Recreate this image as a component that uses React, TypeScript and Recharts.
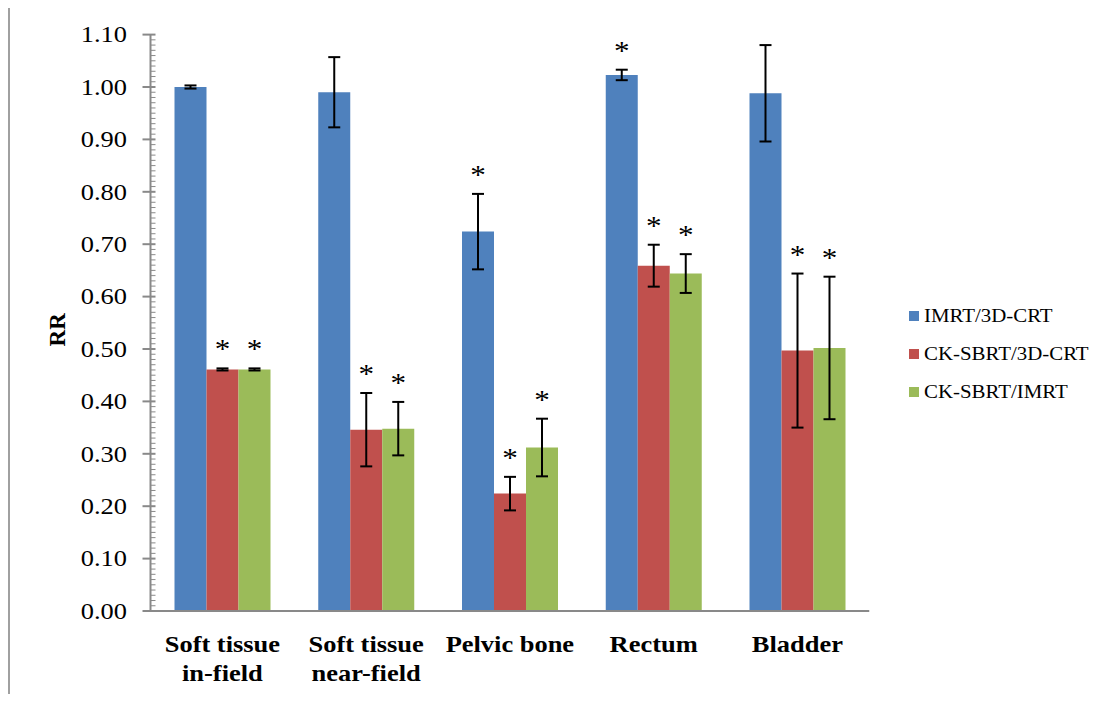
import React from 'react';
import { BarChart, Bar, XAxis, YAxis, ErrorBar, LabelList, Legend, Label } from 'recharts';

const FONT = '"Liberation Serif", "Times New Roman", serif';
const AXIS_GRAY = '#898989';
const TICK_SIZE = 8;
const TICK_MARGIN = 15.5;

// organ / region groups on the x axis ("\n" breaks the label)
const categories = ['Soft tissue\nin-field', 'Soft tissue\nnear-field', 'Pelvic bone', 'Rectum', 'Bladder'];

// series names in legend order
const seriesNames = ['IMRT/3D-CRT', 'CK-SBRT/3D-CRT', 'CK-SBRT/IMRT'];

// relative risk ratios, their error half-widths and significance flags
const imrtVs3d = [1.0, 0.99, 0.724, 1.023, 0.988];
const imrtVs3dErr = [0.003, 0.067, 0.072, 0.01, 0.092];
const imrtVs3dSig = [false, false, true, true, false];

const ckVs3d = [0.461, 0.346, 0.224, 0.659, 0.497];
const ckVs3dErr = [0.002, 0.07, 0.032, 0.04, 0.147];
const ckVs3dSig = [true, true, true, true, true];

const ckVsImrt = [0.461, 0.348, 0.312, 0.644, 0.502];
const ckVsImrtErr = [0.002, 0.051, 0.055, 0.037, 0.136];
const ckVsImrtSig = [true, true, true, true, true];

// labelled ticks every 0.10, minor marks every 0.01
const yTicks = [0, 0.1, 0.2, 0.3, 0.4, 0.5, 0.6, 0.7, 0.8, 0.9, 1.0, 1.1];
const allTicks = Array.from({ length: 111 }, (_, i) => i / 100);

const data = categories.map((name, i) => ({
  name,
  a: imrtVs3d[i],
  aErr: imrtVs3dErr[i],
  b: ckVs3d[i],
  bErr: ckVs3dErr[i],
  c: ckVsImrt[i],
  cErr: ckVsImrtErr[i],
}));

const ValueTick = ({ x, y, payload }: any) => {
  const v = Number(payload.value);
  const axisX = x + TICK_MARGIN + TICK_SIZE;
  const major = yTicks.some((t) => Math.abs(t - v) < 1e-6);
  return (
    <g>
      <line
        x1={major ? axisX - TICK_SIZE : axisX}
        x2={axisX + 5}
        y1={y}
        y2={y}
        stroke={AXIS_GRAY}
        strokeWidth={major ? 2 : 1}
      />
      {major && (
        <text
          transform={`translate(${x},${y}) scale(1.15,1)`}
          textAnchor="end"
          dy="0.34em"
          fontSize={23}
          fontFamily={FONT}
          fill="#000"
        >
          {v.toFixed(2)}
        </text>
      )}
    </g>
  );
};

const CategoryTick = ({ x, y, payload }: any) => {
  const lines = String(payload.value).split('\n');
  return (
    <g>
      {lines.map((ln, i) => (
        <text
          key={i}
          transform={`translate(${x},${y + 41 + i * 29}) scale(1.15,1)`}
          textAnchor="middle"
          fontSize={23}
          fontWeight="bold"
          fontFamily={FONT}
          fill="#000"
        >
          {ln}
        </text>
      ))}
    </g>
  );
};

// asterisk placed just above the upper whisker of a significant bar
const star = (vals: number[], errs: number[], sig: boolean[]) => (props: any) => {
  const vb = props.viewBox ?? props;
  const x = vb.x ?? props.x;
  const y = vb.y ?? props.y;
  const w = vb.width ?? props.width;
  const h = vb.height ?? props.height;
  const i = props.index;
  if (i == null || !sig[i]) return null;
  const perUnit = h / vals[i];
  const top = y - errs[i] * perUnit;
  return (
    <text
      transform={`translate(${x + w / 2},${top - 10}) scale(1.15,1)`}
      textAnchor="middle"
      fontSize={27}
      fontFamily={FONT}
      fill="#000"
    >
      *
    </text>
  );
};

const LegendBox = ({ payload }: any) => {
  const items = [...(payload || [])].sort(
    (p: any, q: any) => seriesNames.indexOf(p.value) - seriesNames.indexOf(q.value)
  );
  return (
    <div style={{ fontFamily: FONT, fontSize: 18, color: '#000' }}>
      {items.map((p: any) => (
        <div key={p.value} style={{ height: 38, display: 'flex', alignItems: 'center', whiteSpace: 'nowrap' }}>
          <span style={{ width: 10, height: 10, background: p.color, display: 'inline-block', marginRight: 5 }} />
          <span style={{ display: 'inline-block', transform: 'scaleX(1.16)', transformOrigin: 'left center' }}>
            {p.value}
          </span>
        </div>
      ))}
    </div>
  );
};

const App = () => (
  <div style={{ position: 'relative', width: 1100, height: 686 }}>
    <div
      style={{
        position: 'absolute',
        left: 0,
        top: -3,
        width: 1108,
        height: 697,
        borderTop: '2px solid #a0a0a0',
        borderLeft: '2px solid #a0a0a0',
        boxSizing: 'border-box',
      }}
    />
    <BarChart
      width={1100}
      height={686}
      data={data}
      margin={{ top: 26.6, right: 238.75, bottom: 3, left: 0 }}
      barGap={0}
      barSize={32}
    >
      <XAxis
        dataKey="name"
        interval={0}
        tickLine={false}
        tickSize={0}
        tickMargin={0}
        height={80}
        axisLine={{ stroke: AXIS_GRAY, strokeWidth: 2 }}
        tick={<CategoryTick />}
      />
      <YAxis
        type="number"
        domain={[0, 1.1]}
        ticks={allTicks}
        interval={0}
        width={142.5}
        tickSize={TICK_SIZE}
        tickMargin={TICK_MARGIN}
        axisLine={{ stroke: AXIS_GRAY, strokeWidth: 2 }}
        tickLine={false}
        tick={<ValueTick />}
      >
        <Label
          content={({ viewBox }: any) => {
            const cx = viewBox.x + 57;
            const cy = viewBox.y + viewBox.height / 2 + 7;
            return (
              <text
                transform={`translate(${cx},${cy}) rotate(-90)`}
                textAnchor="middle"
                fontSize={23}
                fontWeight="bold"
                fontFamily={FONT}
                fill="#000"
              >
                RR
              </text>
            );
          }}
        />
      </YAxis>
      <Legend
        layout="horizontal"
        verticalAlign="middle"
        align="center"
        wrapperStyle={{ left: 901, top: 289, width: 200 }}
        content={<LegendBox />}
      />
      <Bar dataKey="a" name={seriesNames[0]} fill="#4F81BD" isAnimationActive={false}>
        <ErrorBar dataKey="aErr" width={6} stroke="#000" strokeWidth={2} />
        <LabelList dataKey="a" content={star(imrtVs3d, imrtVs3dErr, imrtVs3dSig)} />
      </Bar>
      <Bar dataKey="b" name={seriesNames[1]} fill="#C0504D" isAnimationActive={false}>
        <ErrorBar dataKey="bErr" width={6} stroke="#000" strokeWidth={2} />
        <LabelList dataKey="b" content={star(ckVs3d, ckVs3dErr, ckVs3dSig)} />
      </Bar>
      <Bar dataKey="c" name={seriesNames[2]} fill="#9BBB59" isAnimationActive={false}>
        <ErrorBar dataKey="cErr" width={6} stroke="#000" strokeWidth={2} />
        <LabelList dataKey="c" content={star(ckVsImrt, ckVsImrtErr, ckVsImrtSig)} />
      </Bar>
    </BarChart>
  </div>
);

export default App;
